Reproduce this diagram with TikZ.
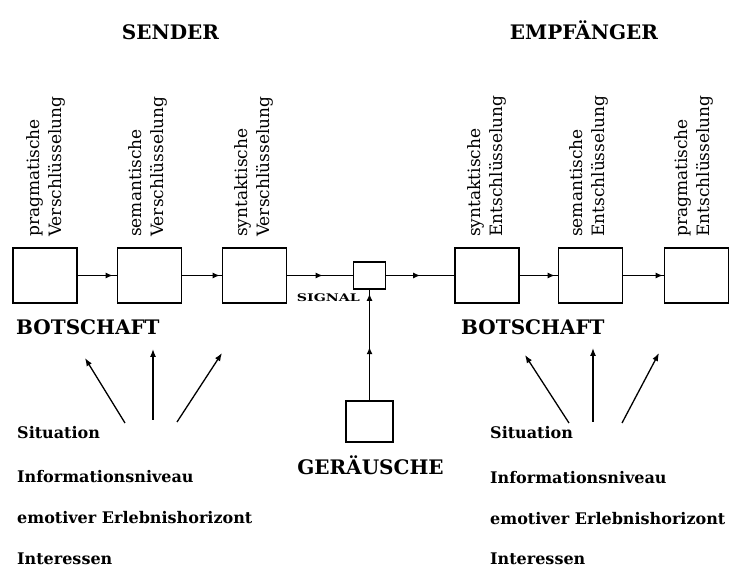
\documentclass[tikz,border=0pt]{standalone}
\usepackage{fontspec}
\setmainfont{DejaVu Serif}
\usetikzlibrary{arrows.meta,decorations.markings}
\begin{document}
\begin{tikzpicture}[x=1pt,y=-1pt,
  box/.style={draw,line width=1.6pt,inner sep=0pt,minimum width=64pt,minimum height=55pt},
  conn/.style={line width=1.2pt},
  midarr/.style={postaction={decorate},decoration={markings,
     mark=at position #1 with {\arrow{Latex[length=7pt,width=6pt]}}}},
  fan/.style={line width=1.3pt,-{Latex[length=8pt,width=6pt]}},
  rlab/.style={rotate=90,anchor=west,align=left,inner sep=0pt,
     font=\fontsize{17}{22}\selectfont},
  head/.style={inner sep=0pt,font=\bfseries\fontsize{20}{24}\selectfont},
  lab/.style={anchor=base west,inner sep=0pt,font=\bfseries\fontsize{16}{19}\selectfont}]
\useasboundingbox (0,0) rectangle (748,569);

% boxes
\node[box] (b1) at (45,275.5) {};
\node[box] (b2) at (149.5,275.5) {};
\node[box] (b3) at (254.5,275.5) {};
\node[box,minimum width=32pt,minimum height=27pt] (sg) at (369.5,275.5) {};
\node[box] (b4) at (487,275.5) {};
\node[box] (b5) at (590.5,275.5) {};
\node[box] (b6) at (696.5,275.5) {};
\node[box,minimum width=47pt,minimum height=41pt] (nz) at (369.5,421.5) {};

% rotated labels
\node[rlab] (r1) at (46,237) {pragmatische\\Verschlüsselung};
\node[rlab] (r2) at (148,237) {semantische\\Verschlüsselung};
\node[rlab] (r3) at (254,237) {syntaktische\\Verschlüsselung};
\node[rlab] (r4) at (487,237) {syntaktische\\Entschlüsselung};
\node[rlab] (r5) at (589,237) {semantische\\Entschlüsselung};
\node[rlab] (r6) at (694,237) {pragmatische\\Entschlüsselung};

% main chain
\draw[conn,midarr=-4pt] (b1) -- (b2);
\draw[conn,midarr=-2pt] (b2) -- (b3);
\draw[conn,midarr=-30pt] (b3) -- (sg);
\draw[conn,midarr=-34pt] (sg) -- (b4);
\draw[conn,midarr=-3pt] (b4) -- (b5);
\draw[conn,midarr=-1pt] (b5) -- (b6);
\draw[conn,postaction={decorate},decoration={markings,
   mark=at position 53pt with {\arrow{Latex[length=7pt,width=6pt]}},
   mark=at position -4pt with {\arrow{Latex[length=7pt,width=6pt]}}}] (nz) -- (sg);

% headings and labels
\node[head,anchor=base] (snd) at (170.5,40) {SENDER};
\node[head,anchor=base] (emp) at (584,40) {EMPFÄNGER};
\node[head,anchor=base west] (bot1) at (16,335) {BOTSCHAFT};
\node[head,anchor=base west] (bot2) at (461,335) {BOTSCHAFT};
\node[head,anchor=base] (ger) at (370.5,475) {GERÄUSCHE};
\node[anchor=base east,inner sep=0pt] (sig) at (360,302)
   {\scalebox{1.35}[1]{\bfseries\fontsize{10.5}{12}\selectfont SIGNAL}};

% fans
\coordinate (f1s) at (125,423); \coordinate (f1e) at (85,358);
\coordinate (f2s) at (153,420); \coordinate (f2e) at (153,349);
\coordinate (f3s) at (177,422); \coordinate (f3e) at (222,353);
\coordinate (g1s) at (569,423); \coordinate (g1e) at (525,355);
\coordinate (g2s) at (593,422); \coordinate (g2e) at (593,348);
\coordinate (g3s) at (622,423); \coordinate (g3e) at (659,353);
\draw[fan] (f1s) -- (f1e);
\draw[fan] (f2s) -- (f2e);
\draw[fan] (f3s) -- (f3e);
\draw[fan] (g1s) -- (g1e);
\draw[fan] (g2s) -- (g2e);
\draw[fan] (g3s) -- (g3e);

% factor lists
\node[lab] (s1) at (17,439) {Situation};
\node[lab] (s2) at (17,483) {Informationsniveau};
\node[lab] (s3) at (17,524) {emotiver Erlebnishorizont};
\node[lab] (s4) at (17,565) {Interessen};
\node[lab] (e1) at (490,439) {Situation};
\node[lab] (e2) at (490,484) {Informationsniveau};
\node[lab] (e3) at (490,525) {emotiver Erlebnishorizont};
\node[lab] (e4) at (490,565) {Interessen};
\end{tikzpicture}
\end{document}
